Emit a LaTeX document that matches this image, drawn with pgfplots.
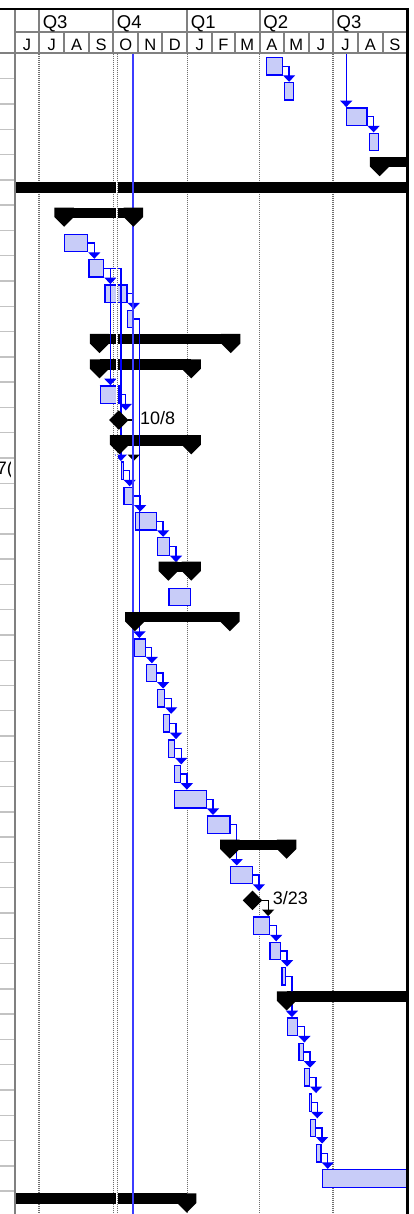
\documentclass[border=0pt]{standalone}
\usepackage{pgfplots}
\pgfplotsset{compat=1.18}
\usepackage{fontspec}
\setmainfont{Liberation Sans}
\usetikzlibrary{arrows.meta}
\definecolor{taskfill}{RGB}{200,204,248}
\definecolor{linkblue}{RGB}{0,0,255}
\definecolor{datecol}{RGB}{60,60,255}
\definecolor{hdrgray}{RGB}{128,128,128}
\definecolor{rowgray}{RGB}{195,195,195}
\definecolor{gridgray}{RGB}{110,110,110}
\pgfdeclareplotmark{sumcap}{%
 \pgfpathmoveto{\pgfqpoint{-9.7pt}{5.2pt}}%
 \pgfpathlineto{\pgfqpoint{9.7pt}{5.2pt}}%
 \pgfpathlineto{\pgfqpoint{9.7pt}{-4.3pt}}%
 \pgfpathlineto{\pgfqpoint{0pt}{-14pt}}%
 \pgfpathlineto{\pgfqpoint{-9.7pt}{-4.3pt}}%
 \pgfpathclose\pgfusepathqfill}
\pgfdeclareplotmark{ms}{%
 \pgfpathmoveto{\pgfqpoint{0pt}{9.7pt}}%
 \pgfpathlineto{\pgfqpoint{9.7pt}{0pt}}%
 \pgfpathlineto{\pgfqpoint{0pt}{-9.7pt}}%
 \pgfpathlineto{\pgfqpoint{-9.7pt}{0pt}}%
 \pgfpathclose\pgfusepathqfill}
\pgfplotsset{
 task/.style={draw=linkblue, line width=18.7pt, mark=none,
   postaction={draw=taskfill, line width=16.1pt, shorten <=1.3pt, shorten >=1.3pt}},
 sum/.style={draw=black, line width=10.4pt, mark=none},
 link/.style={draw=linkblue, line width=1.3pt, mark=none,
   -{Triangle[width=12pt,length=6.5pt]}},
 mlink/.style={draw=black, line width=1.3pt, mark=none,
   -{Triangle[width=12pt,length=6.5pt]}},
 qgrid/.style={draw=gridgray, line width=1.4pt, dash pattern=on 1pt off 1pt, mark=none},
 dateline/.style={color=datecol, draw=datecol, solid, line width=1.3pt, mark=none},
}
\newcommand{\dx}[1]{15+(#1+30)*0.804928}
\begin{document}
\begin{tikzpicture}[x=1pt,y=1pt]
\path[use as bounding box] (0,0) rectangle (414,1214);
\begin{axis}[
  at={(15pt,0pt)}, anchor=south west,
  scale only axis, width=392pt, height=1160.5pt,
  xmin=-30, xmax=457, ymin=0.5, ymax=46.406, y dir=reverse,
  axis line style={draw=none}, ticks=none,
]
% quarter gridlines (days since 1 Jul)
\addplot[qgrid] coordinates {(0,0.5) (0,46.5)};
\addplot[qgrid] coordinates {(92,0.5) (92,46.5)};
\addplot[qgrid] coordinates {(184,0.5) (184,46.5)};
\addplot[qgrid] coordinates {(274,0.5) (274,46.5)};
\addplot[qgrid] coordinates {(365,0.5) (365,46.5)};
% summary bars
\addplot[sum] coordinates {(423,4.8) (480,4.8)};
\addplot[sum] coordinates {(-60,5.8) (520,5.8)};
\addplot[sum] coordinates {(31,6.8) (117,6.8)};
\addplot[sum] coordinates {(75,11.8) (238,11.8)};
\addplot[sum] coordinates {(75,12.8) (189,12.8)};
\addplot[sum] coordinates {(100,15.8) (189,15.8)};
\addplot[sum] coordinates {(160.5,20.8) (189,20.8)};
\addplot[sum] coordinates {(119,22.8) (237,22.8)};
\addplot[sum] coordinates {(237,31.8) (307.5,31.8)};
\addplot[sum] coordinates {(307.5,37.8) (520,37.8)};
\addplot[sum] coordinates {(-60,45.8) (183.3,45.8)};
\addplot[only marks, mark=sumcap, mark options={fill=black,draw=none}] coordinates {
 (423,4.8) (31,6.8) (117,6.8) (75,11.8) (238,11.8) (75,12.8) (189,12.8)
 (100,15.8) (189,15.8) (160.5,20.8) (189,20.8) (119,22.8) (237,22.8)
 (237,31.8) (307.5,31.8) (307.5,37.8) (183.3,45.8)};
% task bars
\addplot[task] coordinates {(282,1) (303,1)};
\addplot[task] coordinates {(304,2) (317,2)};
\addplot[task] coordinates {(381,3) (408,3)};
\addplot[task] coordinates {(410,4) (422,4)};
\addplot[task] coordinates {(31,8) (61,8)};
\addplot[task] coordinates {(61,9) (81,9)};
\addplot[task] coordinates {(81,10) (110,10)};
\addplot[task] coordinates {(109,11) (117,11)};
\addplot[task] coordinates {(75,14) (100,14)};
\addplot[task] coordinates {(102,17) (105,17)};
\addplot[task] coordinates {(104.5,18) (118,18)};
\addplot[task] coordinates {(119,19) (146.5,19)};
\addplot[task] coordinates {(146.5,20) (162.5,20)};
\addplot[task] coordinates {(160.5,22) (188.5,22)};
\addplot[task] coordinates {(118,24) (132.5,24)};
\addplot[task] coordinates {(132.5,25) (146.5,25)};
\addplot[task] coordinates {(146.5,26) (156.5,26)};
\addplot[task] coordinates {(154,27) (162.5,27)};
\addplot[task] coordinates {(160,28) (169,28)};
\addplot[task] coordinates {(167.5,29) (176,29)};
\addplot[task] coordinates {(167.5,30) (208.5,30)};
\addplot[task] coordinates {(208,31) (238,31)};
\addplot[task] coordinates {(237,33) (265.5,33)};
\addplot[task] coordinates {(265.5,35) (287,35)};
\addplot[task] coordinates {(286,36) (300.5,36)};
\addplot[task] coordinates {(301,37) (306.5,37)};
\addplot[task] coordinates {(307.5,39) (322,39)};
\addplot[task] coordinates {(322,40) (329,40)};
\addplot[task] coordinates {(328.5,41) (336.5,41)};
\addplot[task] coordinates {(335.5,42) (338.5,42)};
\addplot[task] coordinates {(336.5,43) (344,43)};
\addplot[task] coordinates {(343.5,44) (351,44)};
\addplot[task] coordinates {(351,45) (480,45)};
% milestones
\addplot[only marks, mark=ms, mark options={fill=black,draw=none}] coordinates {(99,15) (265,34)};
% links
\addplot[link] coordinates {(303,1) (310.5,1) (310.5,1.62)};
\addplot[link] coordinates {(381.5,0.5) (381.5,2.62)};
\addplot[link] coordinates {(408,3) (415.5,3) (415.5,3.62)};
\addplot[link] coordinates {(61,8) (68.5,8) (68.5,8.62)};
\addplot[link] coordinates {(81,9) (88.5,9) (88.5,9.62)};
\addplot[link] coordinates {(110,10) (117.5,10) (117.5,10.62)};
\addplot[link] coordinates {(81,9) (88.5,9) (88.5,13.62)};
\addplot[link] coordinates {(100,14) (107.5,14) (107.5,14.62)};
\addplot[link] coordinates {(81,9) (101.5,9) (101.5,16.62)};
\addplot[link] coordinates {(105,17) (112.5,17) (112.5,17.62)};
\addplot[link] coordinates {(117,11) (124.5,11) (124.5,23.62)};
\addplot[link] coordinates {(118,18) (125.5,18) (125.5,18.62)};
\addplot[link] coordinates {(146.5,19) (154,19) (154,19.62)};
\addplot[link] coordinates {(162.5,20) (170,20) (170,20.62)};
\addplot[link] coordinates {(132.5,24) (140,24) (140,24.62)};
\addplot[link] coordinates {(146.5,25) (154,25) (154,25.62)};
\addplot[link] coordinates {(156.5,26) (164,26) (164,26.62)};
\addplot[link] coordinates {(162.5,27) (170,27) (170,27.62)};
\addplot[link] coordinates {(169,28) (176.5,28) (176.5,28.62)};
\addplot[link] coordinates {(176,29) (183.5,29) (183.5,29.62)};
\addplot[link] coordinates {(208.5,30) (216,30) (216,30.62)};
\addplot[link] coordinates {(238,31) (245.5,31) (245.5,32.62)};
\addplot[link] coordinates {(265.5,33) (273,33) (273,33.62)};
\addplot[link] coordinates {(287,35) (294.5,35) (294.5,35.62)};
\addplot[link] coordinates {(300.5,36) (308,36) (308,36.62)};
\addplot[link] coordinates {(306.5,37) (314,37) (314,38.62)};
\addplot[link] coordinates {(322,39) (329.5,39) (329.5,39.62)};
\addplot[link] coordinates {(329,40) (336.5,40) (336.5,40.62)};
\addplot[link] coordinates {(336.5,41) (344,41) (344,41.62)};
\addplot[link] coordinates {(338.5,42) (345.5,42) (345.5,42.62)};
\addplot[link] coordinates {(344,43) (351.5,43) (351.5,43.62)};
\addplot[link] coordinates {(351,44) (358.5,44) (358.5,44.62)};
\addplot[mlink] coordinates {(111,15) (117.5,15) (117.5,16.62)};
\addplot[mlink] coordinates {(277,34) (284.5,34) (284.5,34.62)};
% status line (on top) and current date line
\addplot[draw=white, line width=2pt, mark=none] coordinates {(97,0.5) (97,46.5)};
\addplot[qgrid] coordinates {(97,0.5) (97,46.5)};
\addplot[dateline] coordinates {(116.6,0.5) (116.6,46.4)};
% milestone labels
\node[anchor=base west, inner sep=0pt, font=\fontsize{18}{18}\selectfont] at (axis cs:125.3,15.19) {10/8};
\node[anchor=base west, inner sep=0pt, font=\fontsize{18}{18}\selectfont] at (axis cs:290.1,34.18) {3/23};
\end{axis}
% left table strip
\foreach \k in {0,...,46} {
  \draw[rowgray, line width=1.4pt] (0,{1214-53.5-25.28*\k}) -- (14,{1214-53.5-25.28*\k});
}
\begin{scope}
\clip (0,0) rectangle (10.7,1214);
\node[anchor=base west, inner sep=0pt, font=\fontsize{18}{18}\selectfont] at (-3.4,{1214-475}) {7(};
\end{scope}
% header
\draw[hdrgray, line width=2pt] (15,1182) -- (407,1182);
\draw[hdrgray, line width=2pt] (0,1161) -- (407,1161);
\foreach \d in {0,92,184,274,365} {
  \draw[hdrgray, line width=2pt] ({\dx{\d}},1161) -- ({\dx{\d}},1204);
}
\foreach \d in {31,62,123,153,215,243,304,335,396,427} {
  \draw[hdrgray, line width=2pt] ({\dx{\d}},1161) -- ({\dx{\d}},1182);
}
\foreach \d/\q in {0/Q3,92/Q4,184/Q1,274/Q2,365/Q3} {
  \node[anchor=base west, inner sep=0pt, font=\fontsize{18.5}{18.5}\selectfont] at ({\dx{\d}+3.5},1185.6) {\q};
}
\foreach \a/\b/\l in {-30/0/J,0/31/J,31/62/A,62/92/S,92/123/O,123/153/N,153/184/D,184/215/J,215/243/F,243/274/M,274/304/A,304/335/M,335/365/J,365/396/J,396/427/A,427/457/S} {
  \node[anchor=base, inner sep=0pt, font=\fontsize{16.5}{16.5}\selectfont] at ({\dx{(\a+\b)/2}},1163.3) {\l};
}
\draw[hdrgray, line width=2pt] (15,0) -- (15,1204);
\draw[black, line width=2pt] (0,1204.5) -- (408,1204.5);
\draw[black, line width=3pt] (407.5,0) -- (407.5,1205.5);
\end{tikzpicture}
\end{document}
